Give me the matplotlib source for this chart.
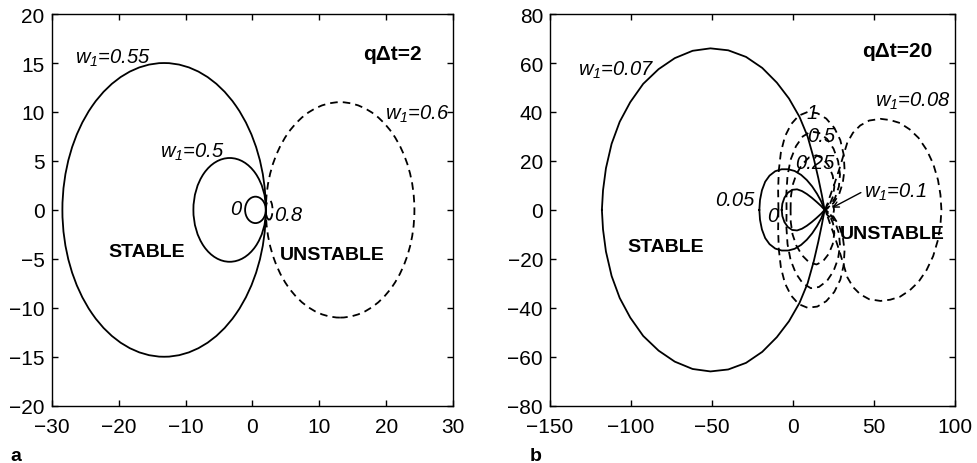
import numpy as np
import matplotlib
matplotlib.use("Agg")
import matplotlib.pyplot as plt
from matplotlib.patches import Ellipse

plt.rcParams['font.family'] = 'Liberation Sans'
plt.rcParams['mathtext.fontset'] = 'custom'
plt.rcParams['mathtext.it'] = 'Liberation Sans:italic'
plt.rcParams['mathtext.rm'] = 'Liberation Sans:italic'

# --- panel a (q dt = 2): loci, nearly elliptic, all through (2, 0)
a_w1 = ['0.55', '0.5', '0', '0.6', '0.8']
a_cx = [-13.2, -3.4, 0.45, 13.1, 2.5]
a_width = [30.4, 10.85, 3.1, 22.2, 1.0]
a_height = [30.0, 10.6, 2.7, 22.0, 2.0]
a_stable = [True, True, True, False, False]

# --- panel b (q dt = 20): upper halves of the loci
b_w1 = ['0.07', '0.05', '0', '0.08', '1', '0.5', '0.25', '0.1']
b_stable = [True, True, True, False, False, False, False, False]
b_x = [
    [-118, -117.3, -115.5, -112, -107, -100.5, -92.5, -83, -73, -62, -51, -40, -29, -19, -10, -2.5, 4, 9, 12.8, 15.6, 17.8, 19.5],
    [-20.8, -20.4, -19.2, -17.2, -14.5, -11, -7, -3, 1, 5, 8.5, 11.8, 14.8, 17.3, 19.5],
    [-7, -6.6, -5.3, -3.2, -0.5, 2.5, 5.5, 8.5, 11.5, 14.5, 17.3, 19.5],
    [20, 22.5, 25.5, 28.5, 31, 33.5, 37, 41.5, 47, 54, 60, 66, 72, 77.5, 82.5, 86.5, 89.5, 91, 91.6],
    [-9, -9.2, -8.8, -7.5, -5, -1.2, 3.5, 9, 15, 20.5, 25.5, 29.2, 31.3, 31.8, 30.7, 28.5, 25, 20],
    [-4, -4.1, -3.4, -1.5, 1.8, 6, 11, 16, 21, 25, 27.8, 29, 28.3, 26, 23, 20],
    [-1.5, -1.4, -0.3, 2, 5.5, 10, 14.5, 18.5, 22, 24.5, 25.5, 24.7, 22.8, 20],
    [20, 20.8, 22.3, 24, 25, 25.3],
]
b_y = [
    [0, 8, 17, 27, 36, 44, 51.5, 57.5, 62, 65, 66, 65.2, 62.5, 58, 52, 45.5, 38, 30, 21, 13, 6, 0],
    [0, 4, 8, 11.5, 14, 15.8, 16.6, 16.6, 15.9, 14.3, 12.2, 9.6, 6.6, 3.6, 0],
    [0, 2.5, 5, 7, 8.2, 8.4, 7.7, 6.5, 5, 3.3, 1.6, 0],
    [0, 5, 10.5, 16.5, 22, 27.5, 31.5, 34.5, 36.5, 37.2, 36.7, 35.5, 32.9, 29.4, 24.5, 18.9, 12.2, 6.2, 0],
    [0, 8, 16, 23.5, 30, 35, 38.5, 40, 39.5, 37.3, 33.5, 28.5, 22.5, 16.5, 11, 6.5, 2.8, 0],
    [0, 7, 14, 20.5, 26, 30, 32, 31.5, 29, 25, 20, 14.5, 9.5, 5, 1.8, 0],
    [0, 5, 10, 14.5, 18.5, 21.5, 22.3, 21, 18, 14, 9.5, 5.5, 2.5, 0],
    [0, 1.8, 2.8, 2.5, 1.2, 0],
]

DASH = (0, (4.2, 2.8))
lw = 1.3

fig = plt.figure(figsize=(9.77, 4.64), dpi=100)
axa = fig.add_axes([0.0529, 0.1235, 0.411, 0.844])
axb = fig.add_axes([0.563, 0.1235, 0.4145, 0.844])

for cx, w, h, st in zip(a_cx, a_width, a_height, a_stable):
    axa.add_patch(Ellipse((cx, 0), w, h, fill=False, ec='k', lw=lw,
                          ls='-' if st else DASH))

for ux, uy, st in zip(b_x, b_y, b_stable):
    ux = np.array(ux, float)
    uy = np.array(uy, float)
    x = np.concatenate([ux, ux[::-1]])
    y = np.concatenate([uy, -uy[::-1]])
    axb.plot(x, y, color='k', lw=lw, ls='-' if st else DASH)

axa.set_xlim(-30, 30)
axa.set_ylim(-20, 20)
axa.set_xticks(np.arange(-30, 31, 10))
axa.set_yticks(np.arange(-20, 21, 5))
axb.set_xlim(-150, 100)
axb.set_ylim(-80, 80)
axb.set_xticks(np.arange(-150, 101, 50))
axb.set_yticks(np.arange(-80, 81, 20))

for ax in (axa, axb):
    for s in ax.spines.values():
        s.set_linewidth(1.0)
    ax.tick_params(direction='in', top=True, right=True, length=4.5, width=1,
                   labelsize=15)
    ax.tick_params(axis='x', pad=8)
    ax.tick_params(axis='y', pad=5)

it = dict(fontsize=14.5, style='italic', ha='left', va='baseline')
bd = dict(fontsize=14, weight='bold', ha='left', va='baseline')
bq = dict(fontsize=15, weight='bold', ha='left', va='baseline')

# panel a labels
axa.text(-26.5, 15.0, '$w_1$=0.55', **it)
axa.text(19.8, 9.3, '$w_1$=0.6', **it)
axa.text(-13.8, 5.4, '$w_1$=0.5', **it)
axa.text(-3.4, -0.4, '0', **it)
axa.text(3.3, -1.0, '0.8', **it)
axa.text(-21.6, -4.7, 'STABLE', **bd)
axa.text(4.1, -5.0, 'UNSTABLE', **bd)
axa.text(16.5, 15.4, 'q\u0394t=2', **bq)

# panel b labels
axb.text(-133, 55.3, '$w_1$=0.07', **it)
axb.text(50.6, 42.5, '$w_1$=0.08', **it)
axb.text(8.5, 37.6, '1', **it)
axb.text(8.6, 28, '0.5', **it)
axb.text(1.2, 17.2, '0.25', **it)
axb.text(44, 5.5, '$w_1$=0.1', **it)
axb.annotate('', xy=(22.5, 0.3), xytext=(43.4, 7.6),
             arrowprops=dict(arrowstyle='->', lw=1.0, color='k'))
axb.text(-48, 2.2, '0.05', **it)
axb.text(-16, -4.6, '0', **it)
axb.text(-102.5, -16.9, 'STABLE', **bd)
axb.text(29, -11.4, 'UNSTABLE', **bd)
axb.text(42.4, 62.8, 'q\u0394t=20', **bq)

fig.text(10 / 977, 1 - 461 / 464, 'a', fontsize=14, weight='bold', va='baseline')
fig.text(530 / 977, 1 - 461 / 464, 'b', fontsize=14, weight='bold', va='baseline')

fig.savefig('out.png', dpi=100)
